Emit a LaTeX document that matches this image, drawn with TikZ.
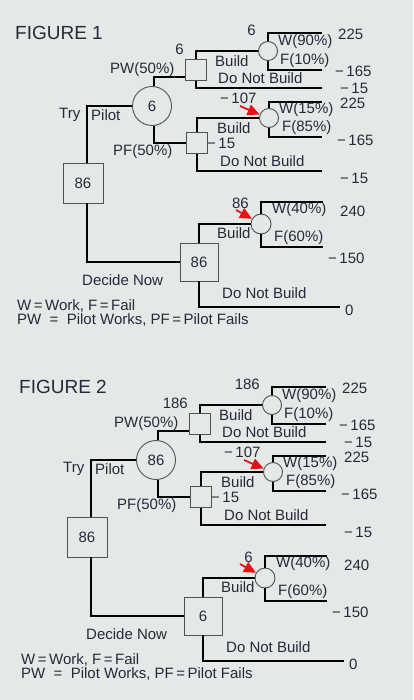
\documentclass[tikz,border=0pt]{standalone}
\usepackage{fontspec}
\setmainfont{Liberation Sans}
\usetikzlibrary{arrows.meta}
\definecolor{bgc}{RGB}{228,233,231}
\definecolor{txt}{RGB}{40,40,58}
\definecolor{outl}{RGB}{80,80,88}
\definecolor{redp}{RGB}{228,18,18}
\tikzset{
  lbl/.style={inner sep=0pt, anchor=west, text=txt, font=\fontsize{15}{17}\selectfont},
  val/.style={lbl, anchor=east},
  ttl/.style={inner sep=0pt, anchor=west, text=txt, font=\fontsize{19}{21}\selectfont},
  decsq/.style={draw=outl, line width=0.9pt, rectangle, minimum width=#1, minimum height=#1, inner sep=0pt, text=txt, font=\fontsize{15}{17}\selectfont},
  decsq/.default=21pt,
  chnode/.style={draw=outl, line width=0.9pt, circle, minimum size=#1, inner sep=0pt, text=txt, font=\fontsize{15}{17}\selectfont},
  chnode/.default=19pt,
  branch/.style={line width=2.2pt, black},
  redarrow/.style={draw=redp, line width=1.8pt, -{Triangle[length=12pt,width=11pt]}},
}
\newcommand\mytree[6]{%
  \node[ttl] (fig) at (15,33) {#1};
  % nodes
  \node[chnode=39pt] (c1) at (152,106) {#4};
  \node[decsq=21pt] (d1) at (196,70) {};
  \node[decsq=21pt] (d2) at (197,143) {};
  \node[chnode=19pt] (ca) at (268,51) {};
  \node[chnode=19pt] (cb) at (269,118) {};
  \node[decsq=40pt] (b1) at (83,183) {86};
  \node[decsq=38pt] (d3) at (199,262) {#6};
  \node[chnode=20pt] (cc) at (261,224) {};
  % end points
  \coordinate (wa) at (322,33);
  \coordinate (fa) at (322,70);
  \coordinate (na) at (322,88);
  \coordinate (wb) at (322,102);
  \coordinate (fb) at (322,137);
  \coordinate (nb) at (322,171);
  \coordinate (wc) at (323,202);
  \coordinate (fc) at (323,247);
  \coordinate (nc) at (340,307);
  \coordinate (ra) at (240,106);
  \coordinate (rc) at (236,210);
  % branches
  \draw[branch] ([xshift=2pt]c1.north) |- ([yshift=-7pt]d1.west);
  \draw[branch] ([xshift=2pt]c1.south) |- (d2.west);
  \draw[branch] (d1.north) |- (ca.west);
  \draw[branch] (d1.south) |- (na);
  \draw[branch] (ca.north) |- (wa);
  \draw[branch] (ca.south) |- (fa);
  \draw[branch] (d2.north) |- (cb.west);
  \draw[branch] (d2.south) |- (nb);
  \draw[branch] (cb.north) |- (wb);
  \draw[branch] (cb.south) |- (fb);
  \draw[branch] ([xshift=4pt]b1.north) |- (c1.west);
  \draw[branch] ([xshift=4pt]b1.south) |- (d3.west);
  \draw[branch] (d3.north) |- (cc.west);
  \draw[branch] (d3.south) |- (nc);
  \draw[branch] (cc.north) |- (wc);
  \draw[branch] (cc.south) |- (fc);
  \draw[redarrow] (ra) -- (cb.160);
  \draw[redarrow] (rc) -- (cc.150);
  % labels
  \node[val] (vca) at (256,30) {#2};
  \node[val] (vd1) at (184,49) {#3};
  \node[val] (vcc) at (249,203) {#5};
  \node[lbl] (l1) at (278,42) {W(90\%)};
  \node[lbl] (l2) at (280,61) {F(10\%)};
  \node[lbl] (l3) at (338,34) {225};
  \node[lbl] (l4) at (335,71) {−\,165};
  \node[lbl] (l5) at (340,88) {−\,15};
  \node[lbl] (l6) at (215,61) {Build};
  \node[lbl] (l7) at (218,78) {Do Not Build};
  \node[lbl] (l8) at (110,70) {PW(50\%)};
  \node[lbl] (l9) at (220,98) {−\,107};
  \node[lbl] (l10) at (279,110) {W(15\%)};
  \node[lbl] (l11) at (282,128) {F(85\%)};
  \node[lbl] (l12) at (340,103) {225};
  \node[lbl] (l13) at (337,140) {−\,165};
  \node[lbl] (l14) at (217,128) {Build};
  \node[lbl] (l15) at (207,143) {−\,15};
  \node[lbl] (l16) at (220,161) {Do Not Build};
  \node[lbl] (l17) at (113,152) {PF(50\%)};
  \node[lbl] (l18) at (59,115) {Try};
  \node[lbl] (l19) at (91,115) {Pilot};
  \node[lbl] (l20) at (340,178) {−\,15};
  \node[lbl] (l21) at (272,210) {W(40\%)};
  \node[lbl] (l22) at (274,238) {F(60\%)};
  \node[lbl] (l23) at (340,211) {240};
  \node[lbl] (l24) at (328,258) {−\,150};
  \node[lbl] (l25) at (217,233) {Build};
  \node[lbl] (l26) at (82,280) {Decide Now};
  \node[lbl] (l27) at (222,293) {Do Not Build};
  \node[lbl] (l28) at (345,310) {0};
  \node[lbl] (l29) at (17,306) {W\,=\,Work, F\,=\,Fail};
  \node[lbl] (l30) at (17,320) {PW\ \ =\ \ Pilot Works, PF\,=\,Pilot Fails};
}
\begin{document}
\begin{tikzpicture}[x=1pt,y=-1pt]
  \fill[bgc] (0,0) rectangle (413,700);
  \useasboundingbox (0,0) rectangle (413,700);
  \begin{scope}[name prefix=fa-]
    \mytree{FIGURE 1}{6}{6}{6}{86}{86}
  \end{scope}
  \begin{scope}[name prefix=fb-, shift={(4,354)}]
    \mytree{FIGURE 2}{186}{186}{86}{6}{6}
  \end{scope}
\end{tikzpicture}
\end{document}
